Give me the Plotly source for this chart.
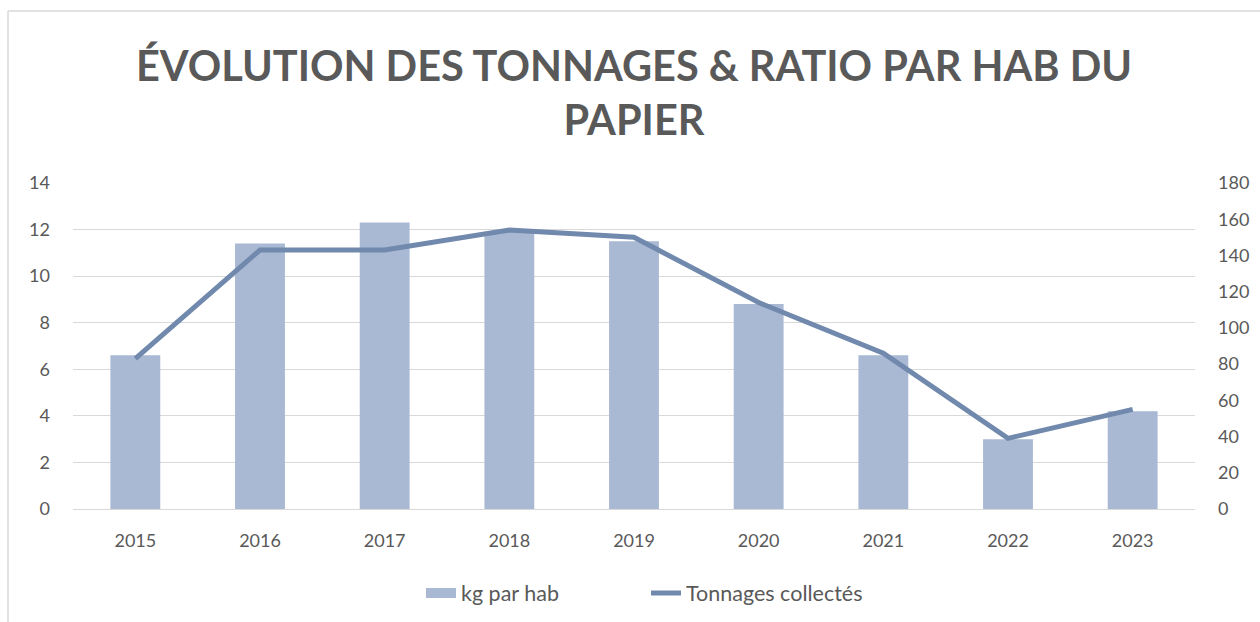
import plotly.graph_objects as go

years = ["2015", "2016", "2017", "2018", "2019", "2020", "2021", "2022", "2023"]
kg_par_hab = [6.6, 11.4, 12.3, 11.9, 11.5, 8.8, 6.6, 3.0, 4.2]
tonnages = [83, 143, 143, 154, 150, 114, 86, 39, 55]

title_text = "ÉVOLUTION DES TONNAGES & RATIO PAR HAB DU<br>PAPIER"
bar_name = "kg par hab"
line_name = "Tonnages collectés"

txt = "#595959"
bar_color = "#A9B9D3"
line_color = "#7089AD"
font_family = "Lato, 'Open Sans', sans-serif"

fig = go.Figure()
fig.add_trace(go.Bar(
    x=years, y=kg_par_hab, name=bar_name,
    marker=dict(color=bar_color, line=dict(width=0)),
    width=0.4, showlegend=False, legendgroup="bar",
))
# legend entry for bars drawn as a wide block (like the original)
fig.add_trace(go.Scatter(
    x=[None], y=[None], name=bar_name, mode="lines",
    line=dict(color=bar_color, width=14), legendgroup="bar",
))
fig.add_trace(go.Scatter(
    x=years, y=tonnages, name=line_name, yaxis="y2",
    mode="lines", line=dict(color=line_color, width=5),
))

W, H = 1260, 622
L, R, T, B = 73, 65, 183, 113
pw = W - L - R
ph = H - T - B

def px_x(x):
    return (x - L) / pw

def px_y(y):
    return (H - B - y) / ph

fig.update_layout(
    width=W, height=H,
    margin=dict(l=L, r=R, t=T, b=B, autoexpand=False),
    paper_bgcolor="white", plot_bgcolor="white",
    font=dict(family=font_family, color=txt, size=18),
    title=dict(
        text=title_text,
        x=0.5, xanchor="center", xref="paper",
        y=1 - 81 / H, yanchor="middle", yref="container",
        font=dict(size=41.5, color=txt, family=font_family, weight="bold"),
    ),
    xaxis=dict(
        showgrid=False, showline=True, linecolor="#D9D9D9", linewidth=1,
        ticks="", tickfont=dict(size=18, color=txt), ticklabelstandoff=15,
    ),
    yaxis=dict(
        range=[0, 14], dtick=2, showgrid=True, gridcolor="#D9D9D9", gridwidth=1,
        zeroline=False, showline=False, ticks="",
        tickfont=dict(size=18, color=txt), ticklabelstandoff=22,
    ),
    yaxis2=dict(
        range=[0, 180], dtick=20, overlaying="y", side="right",
        showgrid=False, zeroline=False, showline=False, ticks="",
        tickfont=dict(size=18, color=txt), ticklabelstandoff=22,
    ),
    showlegend=True,
    legend=dict(
        orientation="h", x=0.5 + 12 / pw, xanchor="center",
        y=-84 / ph, yanchor="middle",
        font=dict(size=21.5, color=txt), traceorder="normal",
        itemwidth=30, entrywidth=180,
    ),
    shapes=[
        dict(type="line", xref="paper", yref="paper",
             x0=px_x(8), x1=px_x(8), y0=px_y(11), y1=px_y(622),
             line=dict(color="#D9D9D9", width=1.5)),
        dict(type="line", xref="paper", yref="paper",
             x0=px_x(8), x1=px_x(1262), y0=px_y(11), y1=px_y(11),
             line=dict(color="#D9D9D9", width=1.5)),
    ],
)

fig.write_html(
    "out.html",
    config={"displayModeBar": False},
    post_script="document.body.style.margin='0';document.body.style.overflow='hidden';",
)
